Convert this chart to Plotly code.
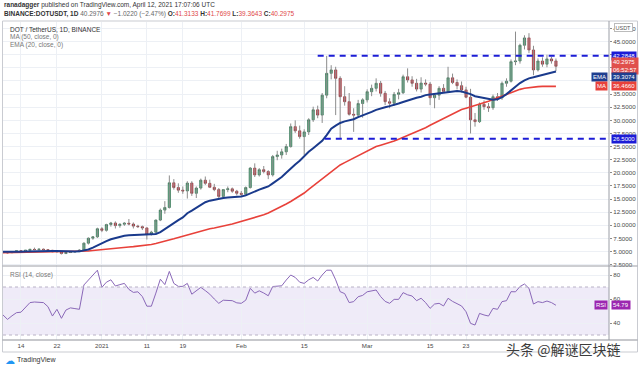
import plotly.graph_objects as go
import pandas as pd

# ---------------- data ----------------
dates = pd.date_range("2020-12-10", "2021-04-12", freq="D")

opens = [4.92, 4.82, 4.78, 4.98, 5.15, 5.08, 5.25, 5.42, 5.38, 5.46, 5.36, 5.24, 4.95, 5.02, 4.62, 4.82, 4.96, 4.98,
         5.30, 6.60, 7.55, 7.80, 9.35, 9.05, 10.15, 10.45, 9.95, 10.20, 10.40, 10.25, 9.85, 9.75, 9.50, 8.25,
         8.70, 11.00, 12.90, 13.40, 18.10, 17.20, 16.70, 16.55, 18.05, 16.10, 17.10, 18.60, 18.00, 17.25, 16.80,
         15.50, 16.80, 16.95, 16.50, 16.10, 15.90, 17.20, 20.90, 19.60, 20.60, 20.25, 19.60, 23.10, 23.40, 24.00,
         25.00, 28.80, 28.00, 26.90, 27.80, 30.10, 32.00, 31.00, 34.80, 38.95, 39.60, 38.00, 34.50, 33.55, 31.15,
         31.00, 33.20, 33.90, 35.45, 36.10, 37.05, 35.15, 33.55, 33.25, 34.95, 35.25, 38.30, 37.70, 37.05, 35.95,
         37.10, 36.90, 34.30, 34.80, 36.10, 35.50, 38.10, 37.20, 36.60, 35.80, 34.40, 30.10, 29.75, 33.05, 32.60,
         32.40, 34.50, 34.30, 37.05, 37.45, 41.17, 41.30, 44.30, 45.70, 43.40, 39.60, 41.30, 40.70, 41.70, 41.3133]
highs = [5.02, 4.90, 5.02, 5.22, 5.25, 5.30, 5.50, 5.75, 5.55, 5.58, 5.45, 5.32, 5.10, 5.08, 4.88, 5.02, 5.08, 5.45,
         6.75, 7.70, 7.95, 9.55, 9.65, 10.30, 10.65, 10.75, 10.40, 10.60, 11.20, 10.55, 10.10, 9.95, 9.60, 8.95,
         11.10, 13.20, 14.60, 19.50, 18.80, 18.00, 17.40, 18.40, 18.40, 17.40, 18.90, 19.30, 18.70, 17.90, 17.10,
         16.90, 17.40, 17.20, 16.75, 16.55, 17.40, 21.10, 21.80, 20.90, 21.30, 20.50, 23.40, 24.20, 24.60, 25.50,
         29.40, 30.00, 29.00, 28.30, 30.40, 32.60, 32.80, 35.20, 42.28, 40.50, 40.20, 38.40, 36.50, 35.20, 32.30,
         33.90, 34.20, 35.90, 36.80, 38.00, 37.50, 35.60, 34.20, 35.40, 36.00, 38.70, 39.90, 38.40, 37.90, 38.20,
         37.80, 37.30, 35.20, 36.50, 36.90, 40.20, 38.90, 37.80, 37.40, 36.40, 36.00, 31.40, 33.40, 33.80, 33.30,
         34.90, 35.20, 37.40, 38.00, 41.60, 46.90, 44.60, 46.20, 46.60, 44.20, 41.80, 42.00, 42.50, 42.10, 41.7699]
lows = [4.70, 4.62, 4.74, 4.92, 4.98, 5.00, 5.15, 5.28, 5.22, 5.30, 5.12, 4.88, 4.82, 4.45, 4.55, 4.72, 4.84, 4.92,
        5.22, 6.35, 7.25, 7.60, 8.70, 8.80, 9.75, 9.40, 9.55, 9.90, 10.00, 9.40, 9.50, 9.10, 7.30, 8.05,
        8.50, 10.80, 12.20, 13.20, 16.80, 16.20, 16.00, 15.10, 15.60, 15.20, 16.80, 17.70, 17.10, 16.50, 15.20,
        15.20, 16.30, 16.20, 15.70, 15.60, 15.70, 17.00, 19.20, 19.30, 19.90, 18.80, 19.30, 22.40, 22.70, 23.40,
        24.80, 27.60, 26.50, 23.40, 27.20, 29.70, 30.40, 29.50, 34.20, 37.80, 31.00, 26.60, 32.80, 30.90, 27.80,
        30.60, 30.50, 33.40, 34.60, 35.50, 34.50, 32.90, 32.30, 32.80, 34.00, 35.00, 37.20, 36.40, 35.50, 35.30,
        36.50, 32.90, 32.30, 33.90, 35.20, 35.30, 36.90, 35.90, 35.30, 34.20, 27.50, 28.80, 29.50, 32.00, 31.60,
        32.00, 33.70, 33.90, 36.40, 37.20, 40.50, 40.80, 43.50, 42.80, 38.60, 39.30, 40.20, 40.10, 40.80, 39.3643]
closes = [4.82, 4.78, 4.98, 5.15, 5.08, 5.25, 5.42, 5.38, 5.46, 5.36, 5.24, 4.95, 5.02, 4.62, 4.82, 4.96, 4.98, 5.30,
          6.60, 7.55, 7.80, 9.35, 9.05, 10.15, 10.45, 9.95, 10.20, 10.40, 10.25, 9.85, 9.75, 9.50, 8.25, 8.70,
          11.00, 12.90, 13.40, 18.10, 17.20, 16.70, 16.55, 18.05, 16.10, 17.10, 18.60, 18.00, 17.25, 16.80, 15.50,
          16.80, 16.95, 16.50, 16.10, 15.90, 17.20, 20.90, 19.60, 20.60, 20.25, 19.60, 23.10, 23.40, 24.00, 25.00,
          28.80, 28.00, 26.90, 27.80, 30.10, 32.00, 31.00, 34.80, 38.95, 39.60, 38.00, 34.50, 33.55, 31.15, 31.00,
          33.20, 33.90, 35.45, 36.10, 37.05, 35.15, 33.55, 33.25, 34.95, 35.25, 38.30, 37.70, 37.05, 35.95, 37.10,
          36.90, 34.30, 34.80, 36.10, 35.50, 38.10, 37.20, 36.60, 35.80, 34.40, 30.10, 29.75, 33.05, 32.60, 32.40,
          34.50, 34.30, 37.05, 37.45, 41.17, 41.30, 44.30, 45.70, 43.40, 39.60, 41.30, 40.70, 41.70, 41.31, 40.2975]
ema20 = [4.95, 4.93, 4.94, 4.96, 4.98, 5.00, 5.04, 5.08, 5.11, 5.13, 5.14, 5.12, 5.10, 5.05, 5.03, 5.02, 5.02, 5.04,
         5.15, 5.40, 5.75, 6.20, 6.60, 7.00, 7.35, 7.60, 7.80, 8.00, 8.10, 8.15, 8.20, 8.25, 8.25, 8.25, 8.35,
         8.70, 9.30, 9.90, 10.50, 11.00, 11.50, 12.30, 12.80, 13.30, 13.80, 14.40, 14.70, 14.90, 15.00, 15.20,
         15.30, 15.35, 15.45, 15.50, 15.70, 16.10, 16.50, 16.80, 17.10, 17.40, 18.00, 18.60, 19.20, 20.00, 20.90,
         21.60, 22.30, 23.20, 24.00, 24.70, 25.40, 26.10, 27.20, 28.40, 29.00, 29.50, 29.80, 30.00, 30.20, 30.60,
         30.90, 31.20, 31.60, 32.00, 32.30, 32.50, 32.70, 32.90, 33.20, 33.50, 33.80, 34.00, 34.30, 34.50, 34.80,
         34.90, 35.00, 35.10, 35.20, 35.40, 35.50, 35.60, 35.50, 35.30, 35.00, 34.60, 34.40, 34.20, 34.00, 33.90,
         34.00, 34.40, 35.00, 35.70, 36.50, 37.10, 37.60, 38.00, 38.20, 38.40, 38.70, 38.90, 39.10, 39.3074]
ma50 = [4.80, 4.81, 4.82, 4.83, 4.84, 4.85, 4.86, 4.87, 4.88, 4.89, 4.90, 4.91, 4.92, 4.93, 4.94, 4.95, 4.97, 5.00,
        5.05, 5.12, 5.20, 5.30, 5.40, 5.50, 5.58, 5.66, 5.74, 5.81, 5.88, 5.95, 6.02, 6.10, 6.20, 6.35, 6.55,
        6.75, 6.95, 7.20, 7.45, 7.70, 7.95, 8.20, 8.45, 8.70, 8.95, 9.15, 9.35, 9.50, 9.65, 9.85, 10.05, 10.25,
        10.50, 10.70, 10.90, 11.15, 11.40, 11.70, 12.00, 12.35, 12.75, 13.15, 13.60, 14.05, 14.55, 15.05, 15.60,
        16.15, 16.85, 17.50, 18.15, 18.85, 19.55, 20.25, 20.90, 21.50, 21.95, 22.40, 22.80, 23.25, 23.70, 24.10,
        24.55, 25.00, 25.25, 25.50, 25.75, 26.05, 26.40, 26.75, 27.10, 27.45, 27.80, 28.20, 28.60, 29.05, 29.50,
        29.95, 30.40, 30.85, 31.30, 31.75, 32.05, 32.30, 32.55, 32.80, 33.05, 33.35, 33.65, 33.95, 34.30, 34.65,
        35.00, 35.35, 35.65, 35.90, 36.10, 36.25, 36.35, 36.42, 36.47, 36.48, 36.47, 36.466]
rsi14 = [46.7, 43.0, 46.0, 48.6, 49.0, 53.0, 57.0, 57.5, 57.5, 57.0, 53.6, 45.8, 51.4, 43.9, 50.8, 52.6, 52.0, 51.4,
         71.7, 75.8, 80.0, 84.0, 69.7, 74.0, 76.0, 70.8, 72.0, 73.0, 68.0, 65.5, 66.0, 62.0, 54.0, 54.0, 64.9,
         76.5, 72.0, 83.0, 73.0, 70.5, 70.5, 73.0, 64.0, 67.0, 69.7, 67.0, 64.0, 60.0, 56.4, 59.0, 59.0, 58.6,
         56.8, 56.4, 59.0, 68.9, 64.9, 66.8, 65.0, 62.7, 70.4, 70.8, 71.0, 75.8, 80.0, 78.0, 74.0, 73.0, 76.0,
         78.0, 75.0, 80.0, 84.0, 84.0, 76.0, 66.1, 64.5, 57.0, 57.8, 61.9, 63.0, 66.0, 67.0, 67.5, 62.0, 58.0,
         56.4, 59.7, 59.7, 65.3, 63.5, 62.5, 58.6, 60.6, 57.0, 52.2, 55.8, 56.4, 54.2, 60.6, 58.0, 56.0, 54.2,
         49.4, 39.7, 38.3, 48.0, 46.7, 45.8, 52.2, 51.4, 57.8, 58.6, 66.1, 66.0, 70.4, 72.5, 68.9, 55.8, 57.8,
         57.0, 58.3, 57.0, 54.79]

level_values = [42.2848, 26.5]
level_starts = ["2021-02-18 00:00", "2021-02-19 14:00"]

x_tick_dates = ["2020-12-14", "2020-12-22", "2021-01-01", "2021-01-11", "2021-01-19",
                "2021-02-01", "2021-02-15", "2021-03-01", "2021-03-15", "2021-03-23"]
x_tick_text = ["14", "22", "2021", "11", "19", "Feb", "15", "Mar", "15", "23"]
price_ticks = [2.5, 5.0, 7.5, 10.0, 12.5, 15.0, 17.5, 20.0, 22.5, 25.0, 27.5, 30.0,
               32.5, 35.0, 37.5, 40.0, 42.5, 45.0, 47.5]
rsi_ticks = [40, 60, 80]

# ---------------- geometry ----------------
W, H = 640, 369
ML, MR, MT, MB = 3, 31, 22, 29
PW = W - ML - MR
PH = H - MT - MB


def fx(px):
    return (px - ML) / PW


def fy(py):
    return (H - MB - py) / PH


split = fy(266)
x_start = pd.Timestamp("2020-12-10")
x_end = x_start + pd.Timedelta(days=134.8)

FONT = "Liberation Sans, Arial, sans-serif"
fig = go.Figure()

# wicks
wx, wy = [], []
for d, h, l in zip(dates, highs, lows):
    wx += [d, d, None]
    wy += [l, h, None]
fig.add_trace(go.Scatter(x=wx, y=wy, mode="lines", line=dict(color="#8c8c8c", width=1),
                         hoverinfo="skip", showlegend=False, xaxis="x", yaxis="y"))
body_hi = [max(o, c) for o, c in zip(opens, closes)]
body_lo = [min(o, c) for o, c in zip(opens, closes)]
fig.add_trace(go.Candlestick(
    x=dates, open=opens, high=body_hi, low=body_lo, close=closes,
    increasing=dict(fillcolor="#53b987", line=dict(color="#2f6b4c", width=0.7)),
    decreasing=dict(fillcolor="#eb4d5c", line=dict(color="#8a2a2f", width=0.7)),
    whiskerwidth=0, showlegend=False, xaxis="x", yaxis="y"))
fig.add_trace(go.Scatter(x=dates, y=ma50, mode="lines", line=dict(color="#e8413a", width=1.6),
                         showlegend=False, xaxis="x", yaxis="y"))
fig.add_trace(go.Scatter(x=dates, y=ema20, mode="lines", line=dict(color="#1a3a8c", width=2),
                         showlegend=False, xaxis="x", yaxis="y"))
fig.add_trace(go.Scatter(x=dates, y=rsi14, mode="lines", line=dict(color="#8a68b8", width=1),
                         showlegend=False, xaxis="x2", yaxis="y2"))

# support / resistance lines
for lv, st in zip(level_values, level_starts):
    fig.add_trace(go.Scatter(x=[pd.Timestamp(st), x_end], y=[lv, lv], mode="lines",
                             line=dict(color="#1c1cd6", width=2, dash="6px,5px"),
                             showlegend=False, hoverinfo="skip", xaxis="x", yaxis="y"))

grid = "#edf0f5"
axfont = dict(family=FONT, size=6.2, color="#4a4a4a")
fig.update_layout(
    template="none",
    width=W, height=H, margin=dict(l=ML, r=MR, t=MT, b=MB, autoexpand=False),
    paper_bgcolor="white", plot_bgcolor="white", showlegend=False,
    xaxis=dict(domain=[0, 1], anchor="y", range=[x_start, x_end], tickvals=x_tick_dates,
               showticklabels=False, showgrid=True, gridcolor=grid, gridwidth=1, zeroline=False,
               showline=False, ticks="", automargin=False, rangeslider=dict(visible=False)),
    xaxis2=dict(domain=[0, 1], anchor="y2", matches="x", range=[x_start, x_end],
                tickvals=x_tick_dates, ticktext=x_tick_text, tickfont=axfont, automargin=False,
                showgrid=True, gridcolor=grid, gridwidth=1, zeroline=False, showline=False,
                ticks="", ticklabelstandoff=1),
    yaxis=dict(domain=[split, 1], anchor="x", side="right", range=[2.252, 48.729],
               tickvals=price_ticks, ticktext=[f"{v:.4f}" for v in price_ticks], automargin=False,
               tickfont=axfont, ticks="outside", ticklen=2, tickcolor="#8c8c8c", tickwidth=1,
               showgrid=True, gridcolor=grid, gridwidth=1, zeroline=False, showline=False),
    yaxis2=dict(domain=[0, split], anchor="x2", side="right", range=[25.83, 87.5],
                tickvals=rsi_ticks, ticktext=[str(v) for v in rsi_ticks], automargin=False,
                tickfont=axfont, ticks="outside", ticklen=2, tickcolor="#8c8c8c", tickwidth=1,
                showgrid=True, gridcolor=grid, gridwidth=1, zeroline=False, showline=False),
    font=dict(family=FONT),
)

shapes = []
# RSI band and bounds
shapes.append(dict(type="rect", xref="x2 domain", yref="y2", x0=0, x1=1, y0=30, y1=70,
                   fillcolor="rgba(126,87,194,0.12)", line_width=0, layer="below"))
for lv in (70, 30):
    shapes.append(dict(type="line", xref="x2 domain", yref="y2", x0=0, x1=1, y0=lv, y1=lv,
                       line=dict(color="#b9b2c6", width=1, dash="3px,3px")))
# frame and separators
shapes.append(dict(type="rect", xref="paper", yref="paper", x0=fx(2.5), x1=fx(637.5), y0=fy(352), y1=fy(21),
                   line=dict(color="#c9cbd1", width=1)))
shapes.append(dict(type="line", xref="paper", yref="paper", x0=fx(2.5), x1=fx(637.5), y0=fy(266), y1=fy(266),
                   line=dict(color="#9b9ea6", width=1.2)))
shapes.append(dict(type="line", xref="paper", yref="paper", x0=fx(2.5), x1=fx(637.5), y0=fy(340), y1=fy(340),
                   line=dict(color="#8f9299", width=1.2)))
shapes.append(dict(type="line", xref="paper", yref="paper", x0=fx(609), x1=fx(609), y0=fy(340), y1=fy(21),
                   line=dict(color="#9b9ea6", width=1)))
fig.update_layout(shapes=shapes)

ann = []
small = dict(family=FONT, size=6.5, color="#333333")
ann.append(dict(xref="paper", yref="paper", x=fx(2), y=fy(5), xanchor="left", yanchor="middle", showarrow=False,
                text="<b>ranadagger</b> published on TradingView.com, April 12, 2021 17:07:06 UTC", font=small))
red = "#e04848"
ann.append(dict(xref="paper", yref="paper", x=fx(2), y=fy(14), xanchor="left", yanchor="middle", showarrow=False,
                text=("<b>BINANCE:DOTUSDT, 1D</b> <span style='color:#666'>40.2976</span> "
                      f"<span style='color:{red}'>▼</span> <span style='color:#666'>−1.0220 (−2.47%)</span> "
                      f"<b>O:</b><span style='color:{red}'>41.3133</span> <b>H:</b><span style='color:{red}'>41.7699</span> "
                      f"<b>L:</b><span style='color:{red}'>39.3643</span> <b>C:</b><span style='color:{red}'>40.2975</span>"),
                font=small))
ann.append(dict(xref="paper", yref="paper", x=fx(8), y=fy(29), xanchor="left", yanchor="middle", showarrow=False,
                text="DOT / TetherUS, 1D, BINANCE", font=dict(family=FONT, size=6.5, color="#333")))
ann.append(dict(xref="paper", yref="paper", x=fx(8), y=fy(37), xanchor="left", yanchor="middle", showarrow=False,
                text="MA (50, close, 0)", font=dict(family=FONT, size=6.5, color="#777")))
ann.append(dict(xref="paper", yref="paper", x=fx(8), y=fy(45), xanchor="left", yanchor="middle", showarrow=False,
                text="EMA (20, close, 0)", font=dict(family=FONT, size=6.5, color="#777")))
ann.append(dict(xref="paper", yref="paper", x=fx(8), y=fy(275), xanchor="left", yanchor="middle", showarrow=False,
                text="RSI (14, close)", font=dict(family=FONT, size=6.5, color="#777")))

lab = dict(family=FONT, size=6.0, color="white")
ann.append(dict(xref="paper", yref="paper", x=fx(623), y=fy(27), xanchor="center", yanchor="middle",
                showarrow=False, text="USDT", font=dict(family=FONT, size=5.5, color="#555"),
                bgcolor="white", bordercolor="#bbb", borderwidth=1, borderpad=0.5))
ann.append(dict(xref="paper", yref="y", x=fx(611), y=level_values[0], xanchor="left", yanchor="middle",
                showarrow=False, text="42.2848", font=lab, bgcolor="#1c1cd6", borderpad=1))
ann.append(dict(xref="paper", yref="y", x=fx(611), y=closes[-1], xanchor="left", yanchor="middle",
                showarrow=False, text="40.2975<br>06:52:57", font=lab, bgcolor="#e0504c", borderpad=1,
                align="left"))
ann.append(dict(xref="paper", yref="y", x=fx(608), y=ema20[-1], yshift=-6, xanchor="right", yanchor="middle",
                showarrow=False, text="EMA", font=lab, bgcolor="#1f3f8f", borderpad=1))
ann.append(dict(xref="paper", yref="y", x=fx(611), y=ema20[-1], yshift=-6, xanchor="left", yanchor="middle",
                showarrow=False, text=f"{ema20[-1]:.4f}", font=lab, bgcolor="#1f3f8f", borderpad=1))
ann.append(dict(xref="paper", yref="y", x=fx(608), y=ma50[-1], xanchor="right", yanchor="middle",
                showarrow=False, text="MA", font=lab, bgcolor="#e8413a", borderpad=1))
ann.append(dict(xref="paper", yref="y", x=fx(611), y=ma50[-1], xanchor="left", yanchor="middle",
                showarrow=False, text=f"{ma50[-1]:.4f}", font=lab, bgcolor="#e8413a", borderpad=1))
ann.append(dict(xref="paper", yref="y", x=fx(611), y=level_values[1], xanchor="left", yanchor="middle",
                showarrow=False, text="26.5000", font=lab, bgcolor="#1c1cd6", borderpad=1))
ann.append(dict(xref="paper", yref="y2", x=fx(608), y=rsi14[-1], xanchor="right", yanchor="middle",
                showarrow=False, text="RSI", font=lab, bgcolor="#9c27b0", borderpad=1))
ann.append(dict(xref="paper", yref="y2", x=fx(611), y=rsi14[-1], xanchor="left", yanchor="middle",
                showarrow=False, text=f"{rsi14[-1]:.2f}", font=lab, bgcolor="#9c27b0", borderpad=1))
# TradingView logo
ann.append(dict(xref="paper", yref="paper", x=fx(3), y=fy(360), xanchor="left", yanchor="middle",
                showarrow=False, text="☁", font=dict(family="DejaVu Sans", size=10, color="#2196f3")))
ann.append(dict(xref="paper", yref="paper", x=fx(15), y=fy(360), xanchor="left", yanchor="middle",
                showarrow=False, text="TradingView", font=dict(family=FONT, size=7, color="#333")))
# watermark
ann.append(dict(xref="paper", yref="paper", x=fx(563), y=fy(349), xanchor="center", yanchor="middle",
                showarrow=False, text="头条 @解谜区块链",
                font=dict(family="Noto Sans CJK SC", size=14, color="#3c3c3c")))
fig.update_layout(annotations=ann)

fig.write_html("out.html", config={"displayModeBar": False},
               post_script="document.body.style.margin='0px';document.body.style.overflow='hidden';")
